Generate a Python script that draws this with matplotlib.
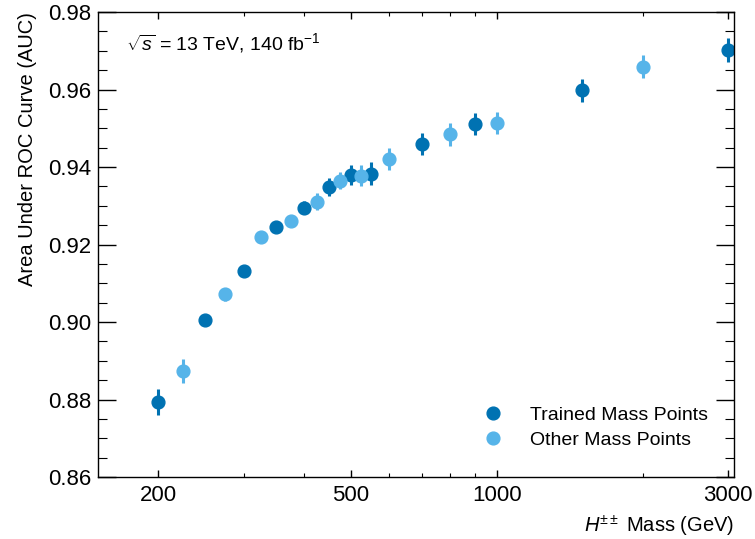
import matplotlib
matplotlib.use("Agg")
import matplotlib.pyplot as plt
from matplotlib.ticker import FixedLocator, NullFormatter, MultipleLocator, FixedFormatter

plt.rcParams['font.family'] = ['Liberation Sans', 'DejaVu Sans']
plt.rcParams['mathtext.fontset'] = 'custom'
plt.rcParams['mathtext.rm'] = 'Liberation Sans'
plt.rcParams['mathtext.it'] = 'Liberation Sans:italic'
plt.rcParams['mathtext.bf'] = 'Liberation Sans:bold'

# AUC vs H++ mass, trained points and interpolated points
trained_mass = [200, 250, 300, 350, 400, 450, 500, 550, 700, 900, 1500, 3000]
trained_auc = [0.8794, 0.9005, 0.9132, 0.9246, 0.9295, 0.9348, 0.9380, 0.9383,
               0.9460, 0.9511, 0.9598, 0.9702]
trained_err = [0.0033, 0.0010, 0.0008, 0.0010, 0.0017, 0.0024, 0.0026, 0.0029,
               0.0029, 0.0029, 0.0029, 0.0031]

other_mass = [225, 275, 325, 375, 425, 475, 525, 600, 800, 1000, 2000]
other_auc = [0.8874, 0.9072, 0.9219, 0.9261, 0.9310, 0.9365, 0.9378, 0.9421,
             0.9484, 0.9514, 0.9659]
other_err = [0.0031, 0.0017, 0.0008, 0.0012, 0.0022, 0.0023, 0.0028, 0.0029,
             0.0030, 0.0029, 0.0029]

dark = '#0072B2'
light = '#56B4E9'

fig = plt.figure(figsize=(7.55, 5.39), dpi=100)
ax = fig.add_axes([0.1298, 0.115, 0.8424, 0.8627])

ax.errorbar(trained_mass, trained_auc, yerr=trained_err, fmt='none',
            ecolor=dark, elinewidth=2.2, capsize=0)
ax.errorbar(other_mass, other_auc, yerr=other_err, fmt='none',
            ecolor=light, elinewidth=2.2, capsize=0)
ax.plot(trained_mass, trained_auc, 'o', color=dark, markersize=9.2,
        label='Trained Mass Points')
ax.plot(other_mass, other_auc, 'o', color=light, markersize=9.2,
        label='Other Mass Points')

ax.set_xscale('log')
ax.set_xlim(150, 3090)
ax.set_ylim(0.86, 0.98)

ax.xaxis.set_major_locator(FixedLocator([200, 500, 1000, 3000]))
ax.xaxis.set_major_formatter(FixedFormatter(['200', '500', '1000', '3000']))
ax.xaxis.set_minor_locator(FixedLocator([300, 400, 600, 700, 800, 900, 2000]))
ax.xaxis.set_minor_formatter(NullFormatter())
ax.yaxis.set_major_locator(MultipleLocator(0.02))
ax.yaxis.set_minor_locator(MultipleLocator(0.005))
ax.yaxis.set_major_formatter(matplotlib.ticker.FormatStrFormatter('%.2f'))

ax.tick_params(axis='both', which='both', direction='in', top=True, right=True,
               labelsize=16)
ax.tick_params(axis='x', which='major', length=5, width=1, pad=6)
ax.tick_params(axis='x', which='minor', length=3, width=0.8)
ax.tick_params(axis='y', which='major', length=13, width=1, pad=5)
ax.tick_params(axis='y', which='minor', length=6.5, width=0.8)
for s in ax.spines.values():
    s.set_linewidth(1.0)

ax.set_xlabel(r'$H^{\pm\pm}$ Mass (GeV)', fontsize=14.5, loc='right', labelpad=5)
ax.set_ylabel('Area Under ROC Curve (AUC)', fontsize=14.5, loc='top', labelpad=8)

ax.text(0.044, 0.933, r'$\sqrt{s}$ = 13 TeV, 140 fb$^{-1}$', transform=ax.transAxes,
        fontsize=14, ha='left', va='center')

ax.legend(loc='upper left', bbox_to_anchor=(0.593, 0.168), frameon=False, fontsize=14,
          handlelength=1.0, handletextpad=1.4, labelspacing=0.35, borderaxespad=0)

fig.savefig('out.png', dpi=100)
